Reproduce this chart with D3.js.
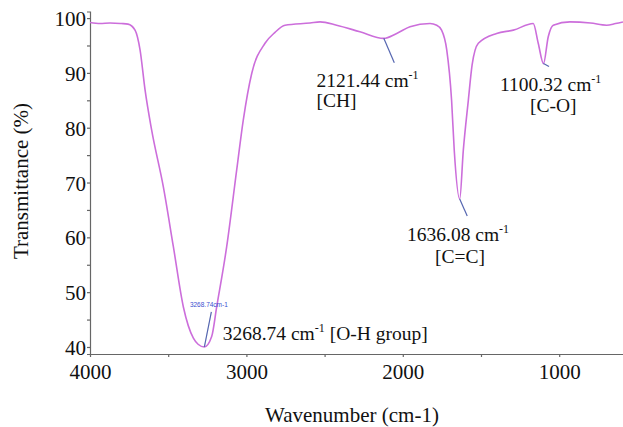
<!DOCTYPE html>
<head>
    <meta charset="UTF-8">
    <title>FTIR Spectrum</title>
</head>
<style>
    body { margin: 0; background: #fff; }
    svg text { font-family: "Liberation Serif", "DejaVu Serif", "Times New Roman", serif; }
    .axis .domain, .axis .tick line { stroke: #666; stroke-width: 1.2; }
    .axis text { font-size: 21px; fill: #111; }
</style>
<body>
<script src="https://cdnjs.cloudflare.com/ajax/libs/d3/7.8.5/d3.min.js"></script>
<script>
    // spectrum (wavenumber in cm-1, transmittance in %)
    var wavenumber = [4000, 3935, 3872, 3800, 3757, 3712, 3680, 3648, 3606, 3531, 3467, 3403, 3339, 3309,
        3268.74, 3222, 3190, 3126, 3062, 3020, 2966, 2881, 2817, 2753, 2593, 2529, 2423, 2274,
        2121.44, 2039, 1954, 1826, 1783, 1752, 1719, 1688, 1671, 1636.08, 1613, 1581, 1557, 1517,
        1400, 1293, 1166, 1134, 1100.32, 1070, 1038, 931, 800, 697, 640, 592];
    var transmittance = [99.2, 99.0, 99.1, 99.0, 98.9, 97.8, 94.2, 86.9, 79.6, 69.2, 58.3, 47.3, 41.6, 40.5,
        40.0, 41.9, 47.3, 58.3, 72.3, 81.4, 89.9, 95.4, 97.4, 98.7, 99.1, 99.3, 98.7, 97.5,
        96.3, 97.2, 98.4, 99.0, 98.7, 97.8, 94.2, 85.0, 75.9, 67.0, 75.9, 85.0, 91.4, 95.4,
        97.2, 97.8, 99.0, 95.4, 91.7, 96.6, 98.7, 99.3, 99.1, 98.7, 99.0, 99.3];

    var xTicks = [4000, 3000, 2000, 1000];
    var yTicks = [40, 50, 60, 70, 80, 90, 100];

    // marked peaks
    var peakWn = [3268.74, 2121.44, 1636.08, 1100.32];
    var peakT = [40.0, 96.3, 67.0, 91.7];
    var peakGroup = ["O-H group", "CH", "C=C", "C-O"];

    var data = wavenumber.map(function(w, i) { return {w: w, t: transmittance[i]}; });

    var width = 623, height = 427;
    var plot = {left: 90, right: 623, top: 11.5, bottom: 354};
    var serif = "Liberation Serif, DejaVu Serif, Times New Roman, serif";

    var x = d3.scaleLinear().domain([4000, 592]).range([plot.left, plot.right]);
    var y = d3.scaleLinear().domain([38.72, 101.2]).range([plot.bottom, plot.top]);

    var svg = d3.select("body").append("svg")
        .attr("width", width)
        .attr("height", height);

    svg.append("g")
        .attr("class", "axis axis--x")
        .attr("transform", "translate(0," + plot.bottom + ")")
        .call(d3.axisBottom(x)
            .tickValues(d3.range(4000, 591, -500))
            .tickSize(3)
            .tickSizeOuter(0)
            .tickFormat(function(d) { return xTicks.indexOf(d) >= 0 ? d : ""; }))
        .attr("font-family", serif)
        .call(function(g) { g.selectAll("text").attr("y", 10); });

    svg.append("g")
        .attr("class", "axis axis--y")
        .attr("transform", "translate(" + plot.left + ",0)")
        .call(d3.axisLeft(y)
            .tickValues(d3.range(40, 101, 5))
            .tickSize(3)
            .tickSizeOuter(3)
            .tickFormat(function(d) { return yTicks.indexOf(d) >= 0 ? d : ""; }))
        .attr("font-family", serif)
        .call(function(g) { g.selectAll("text").attr("x", -4).attr("dy", "0.36em"); });

    var line = d3.line()
        .x(function(d) { return x(d.w); })
        .y(function(d) { return y(d.t); })
        .curve(d3.curveMonotoneX);

    svg.append("path")
        .datum(data)
        .attr("fill", "none")
        .attr("stroke", "#cc6edb")
        .attr("stroke-width", 1.6)
        .attr("d", line);

    // leader line offsets and label placement for each peak
    var leader = [[7, -35], [10.5, 24.5], [7.5, 17], [5.5, 3]];
    var labelPos = [
        [[222.7, 339.5]],
        [[316.5, 87], [316.5, 107]],
        [[407, 241], [435, 263]],
        [[500, 91], [530, 112]]
    ];

    var peaks = svg.append("g").attr("class", "peaks");

    peakWn.forEach(function(w, i) {
        var px = x(w), py = y(peakT[i]);
        peaks.append("line")
            .attr("x1", px).attr("y1", py)
            .attr("x2", px + leader[i][0]).attr("y2", py + leader[i][1])
            .attr("stroke", "#5566b0")
            .attr("stroke-width", 1.2);

        var pos = labelPos[i];
        var t = peaks.append("text")
            .attr("x", pos[0][0]).attr("y", pos[0][1])
            .attr("font-family", serif)
            .attr("font-size", "19.5px")
            .attr("fill", "#111");
        t.append("tspan").text(w.toFixed(2) + " cm");
        t.append("tspan").attr("font-size", "12px").attr("dy", -8).text("-1");
        if (pos.length > 1) {
            peaks.append("text")
                .attr("x", pos[1][0]).attr("y", pos[1][1])
                .attr("font-family", serif)
                .attr("font-size", "19.5px")
                .attr("fill", "#111")
                .text("[" + peakGroup[i] + "]");
        } else {
            t.append("tspan").attr("dy", 8).text(" [" + peakGroup[i] + "]");
        }
    });

    // little instrument tag at the O-H minimum
    svg.append("text")
        .attr("x", x(peakWn[0]) + 4.5)
        .attr("y", y(peakT[0]) - 40)
        .attr("text-anchor", "middle")
        .style("font-family", "Liberation Sans, Arial, sans-serif")
        .attr("font-size", "6.5px")
        .attr("fill", "#3a4fd0")
        .text(peakWn[0] + "cm-1");

    svg.append("text")
        .attr("transform", "translate(28,181) rotate(-90)")
        .attr("text-anchor", "middle")
        .attr("font-family", serif)
        .attr("font-size", "21px")
        .attr("fill", "#111")
        .text("Transmittance  (%)");

    svg.append("text")
        .attr("x", 352)
        .attr("y", 422)
        .attr("text-anchor", "middle")
        .attr("font-family", serif)
        .attr("font-size", "21px")
        .attr("fill", "#111")
        .text("Wavenumber  (cm-1)");
</script>
